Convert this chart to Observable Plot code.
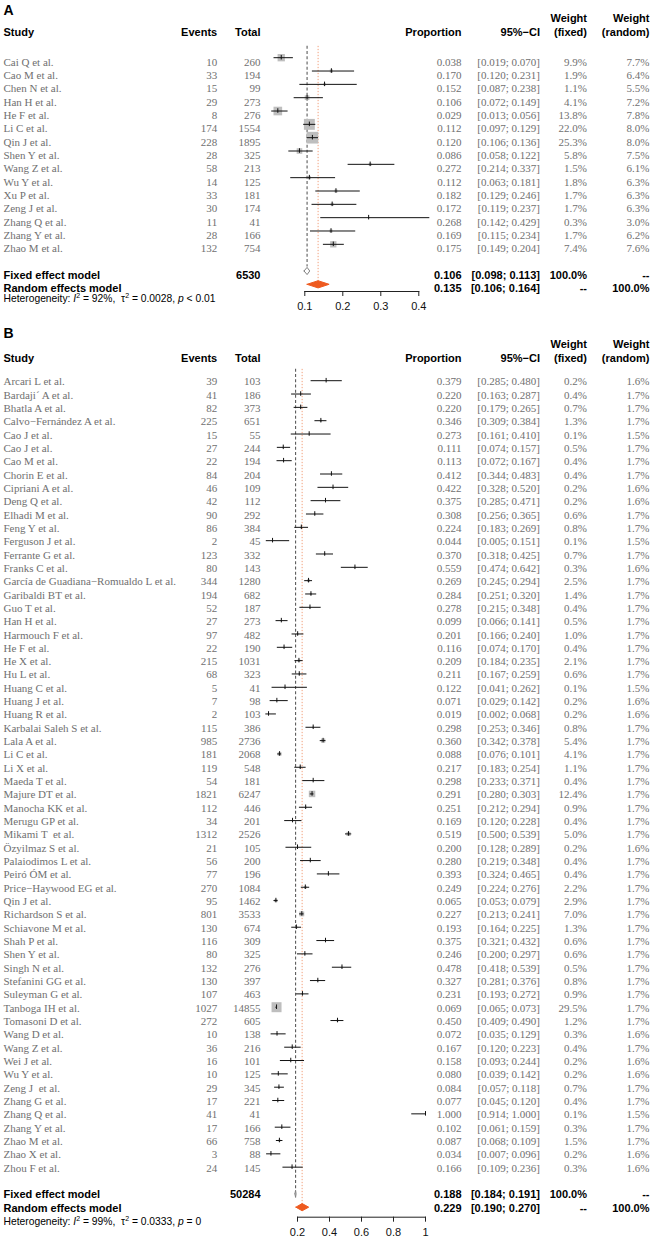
<!DOCTYPE html>
<html><head><meta charset="utf-8">
<script src="https://cdn.jsdelivr.net/npm/d3@7"></script>
<script src="https://cdn.jsdelivr.net/npm/@observablehq/plot@0.6"></script>
<style>body{margin:0;background:#fff;width:651px} svg{display:block}</style>
</head><body><div id="chart"></div><script>
// ---------- Panel A data ----------
const studiesA = ["Cai Q et al.","Cao M et al.","Chen N et al.","Han H et al.","He F et al.","Li C et al.","Qin J et al.","Shen Y et al.","Wang Z et al.","Wu Y et al.","Xu P et al.","Zeng J et al.","Zhang Q et al.","Zhang Y et al.","Zhao M et al."];
const eventsA = [10,33,15,29,8,174,228,28,58,14,33,30,11,28,132];
const totalA = [260,194,99,273,276,1554,1895,325,213,125,181,174,41,166,754];
const propA = [0.038,0.170,0.152,0.106,0.029,0.112,0.120,0.086,0.272,0.112,0.182,0.172,0.268,0.169,0.175];
const lowerA = [0.019,0.120,0.087,0.072,0.013,0.097,0.106,0.058,0.214,0.063,0.129,0.119,0.142,0.115,0.149];
const upperA = [0.070,0.231,0.238,0.149,0.056,0.129,0.136,0.122,0.337,0.181,0.246,0.237,0.429,0.234,0.204];
const wFixedA = [9.9,1.9,1.1,4.1,13.8,22.0,25.3,5.8,1.5,1.8,1.7,1.7,0.3,1.7,7.4];
const wRandomA = [7.7,6.4,5.5,7.2,7.8,8.0,8.0,7.5,6.1,6.3,6.3,6.3,3.0,6.2,7.6];
const fixedA = [0.106,0.098,0.113];
const randomA = [0.135,0.106,0.164];
const totalNA = 6530;
const hetA = ["92%","0.0028","< 0.01"];
const xTicksA = [0.1,0.2,0.3,0.4];

// ---------- Panel B data ----------
const studiesB = ["Arcari L et al.","Bardaji´ A et al.","Bhatla A et al.","Calvo−Fernández A et al.","Cao J et al.","Cao J et al.","Cao M et al.","Chorin E et al.","Cipriani A et al.","Deng Q et al.","Elhadi M et al.","Feng Y et al.","Ferguson J et al.","Ferrante G et al.","Franks C et al.","García de Guadiana−Romualdo L et al.","Garibaldi BT et al.","Guo T et al.","Han H et al.","Harmouch F et al.","He F et al.","He X et al.","Hu L et al.","Huang C et al.","Huang J et al.","Huang R et al.","Karbalai Saleh S et al.","Lala A et al.","Li C et al.","Li X et al.","Maeda T et al.","Majure DT et al.","Manocha KK et al.","Merugu GP et al.","Mikami T  et al.","Özyilmaz S et al.","Palaiodimos L et al.","Peiró ÓM et al.","Price−Haywood EG et al.","Qin J et al.","Richardson S et al.","Schiavone M et al.","Shah P et al.","Shen Y et al.","Singh N et al.","Stefanini GG et al.","Suleyman G et al.","Tanboga IH et al.","Tomasoni D et al.","Wang D et al.","Wang Z et al.","Wei J et al.","Wu Y et al.","Zeng J  et al.","Zhang G et al.","Zhang Q et al.","Zhang Y et al.","Zhao M et al.","Zhao X et al.","Zhou F et al."];
const eventsB = [39,41,82,225,15,27,22,84,46,42,90,86,2,123,80,344,194,52,27,97,22,215,68,5,7,2,115,985,181,119,54,1821,112,34,1312,21,56,77,270,95,801,130,116,80,132,130,107,1027,272,10,36,16,10,29,17,41,17,66,3,24];
const totalB = [103,186,373,651,55,244,194,204,109,112,292,384,45,332,143,1280,682,187,273,482,190,1031,323,41,98,103,386,2736,2068,548,181,6247,446,201,2526,105,200,196,1084,1462,3533,674,309,325,276,397,463,14855,605,138,216,101,125,345,221,41,166,758,88,145];
const propB = [0.379,0.220,0.220,0.346,0.273,0.111,0.113,0.412,0.422,0.375,0.308,0.224,0.044,0.370,0.559,0.269,0.284,0.278,0.099,0.201,0.116,0.209,0.211,0.122,0.071,0.019,0.298,0.360,0.088,0.217,0.298,0.291,0.251,0.169,0.519,0.200,0.280,0.393,0.249,0.065,0.227,0.193,0.375,0.246,0.478,0.327,0.231,0.069,0.450,0.072,0.167,0.158,0.080,0.084,0.077,1.000,0.102,0.087,0.034,0.166];
const lowerB = [0.285,0.163,0.179,0.309,0.161,0.074,0.072,0.344,0.328,0.285,0.256,0.183,0.005,0.318,0.474,0.245,0.251,0.215,0.066,0.166,0.074,0.184,0.167,0.041,0.029,0.002,0.253,0.342,0.076,0.183,0.233,0.280,0.212,0.120,0.500,0.128,0.219,0.324,0.224,0.053,0.213,0.164,0.321,0.200,0.418,0.281,0.193,0.065,0.409,0.035,0.120,0.093,0.039,0.057,0.045,0.914,0.061,0.068,0.007,0.109];
const upperB = [0.480,0.287,0.265,0.384,0.410,0.157,0.167,0.483,0.520,0.471,0.365,0.269,0.151,0.425,0.642,0.294,0.320,0.348,0.141,0.240,0.170,0.235,0.259,0.262,0.142,0.068,0.346,0.378,0.101,0.254,0.371,0.303,0.294,0.228,0.539,0.289,0.348,0.465,0.276,0.079,0.241,0.225,0.432,0.297,0.539,0.376,0.272,0.073,0.490,0.129,0.223,0.244,0.142,0.118,0.120,1.000,0.159,0.109,0.096,0.236];
const wFixedB = [0.2,0.4,0.7,1.3,0.1,0.5,0.4,0.4,0.2,0.2,0.6,0.8,0.1,0.7,0.3,2.5,1.4,0.4,0.5,1.0,0.4,2.1,0.6,0.1,0.2,0.2,0.8,5.4,4.1,1.1,0.4,12.4,0.9,0.4,5.0,0.2,0.4,0.4,2.2,2.9,7.0,1.3,0.6,0.6,0.5,0.8,0.9,29.5,1.2,0.3,0.4,0.2,0.2,0.7,0.4,0.1,0.3,1.5,0.2,0.3];
const wRandomB = [1.6,1.7,1.7,1.7,1.5,1.7,1.7,1.7,1.6,1.6,1.7,1.7,1.5,1.7,1.6,1.7,1.7,1.7,1.7,1.7,1.7,1.7,1.7,1.5,1.6,1.6,1.7,1.7,1.7,1.7,1.7,1.7,1.7,1.7,1.7,1.6,1.7,1.7,1.7,1.7,1.7,1.7,1.7,1.7,1.7,1.7,1.7,1.7,1.7,1.6,1.7,1.6,1.6,1.7,1.7,1.5,1.7,1.7,1.6,1.6];
const fixedB = [0.188,0.184,0.191];
const randomB = [0.229,0.190,0.270];
const totalNB = 50284;
const hetB = ["99%","0.0333","= 0"];
const xTicksB = [0.2,0.4,0.6,0.8,1];

// ---------- shared text ----------
const colHeaders = ["Study","Events","Total","Proportion","95%−CI","(fixed)","(random)"];
const weightHeader = "Weight";
const summaryLabels = ["Fixed effect model","Random effects model"];

const SERIF = "'Liberation Serif','Times New Roman',serif";
const SANS = "'Liberation Sans',Arial,Helvetica,sans-serif";
const COLS = [3, 216.7, 260, 461, 539.5, 586.5, 649];
const ANCH = ["start","end","end","end","end","end","end"];

function panel(o) {
  const N = o.studies.length;
  const rows = o.studies.map((s,i)=>({study:s, events:String(o.events[i]), total:String(o.total[i]), est:o.prop[i],
    lo:o.lower[i], hi:o.upper[i], wf:o.wFixed[i], wr:o.wRandom[i], row:i}));
  const ci = (l,h) => `[${l.toFixed(3)}; ${h.toFixed(3)}]`;
  const summ = [
    {label:summaryLabels[0], total:String(o.totalN), est:o.fixed[0].toFixed(3), ci:ci(o.fixed[1],o.fixed[2]), wf:"100.0%", wr:"--", row:N+1},
    {label:summaryLabels[1], total:"", est:o.random[0].toFixed(3), ci:ci(o.random[1],o.random[2]), wf:"--", wr:"100.0%", row:N+2}
  ];
  const ml = o.ml;
  const dy = o.dy;
  const txt = (data, text, c, extra={}) => Plot.text(data, {y:"row", text, frameAnchor:"left", dx: COLS[c]-ml, textAnchor: ANCH[c], ...extra});
  const studyStyle = {fontFamily: SERIF, fontSize: 11, fill: "#707070"};
  const boldStyle = {fontFamily: SANS, fontSize: 11, fontWeight: "bold", fill: "#000"};
  const h = 0.27;
  const dia = (v, row, key) => [{x:v[1],y:row,k:key},{x:v[0],y:row-h,k:key},{x:v[2],y:row,k:key},{x:v[0],y:row+h,k:key},{x:v[1],y:row,k:key}];

  const marks = [
    Plot.ruleX([o.fixed[0]], {y1: () => -0.85, y2: () => N+1-0.3, stroke:"#5c5c5c", strokeDasharray:"3,2.2", strokeWidth:1.1, dy}),
    Plot.ruleX([o.random[0]], {y1: () => -0.85, y2: () => N+2, stroke:"#F2A07C", strokeDasharray:"1.3,1.7", strokeWidth:1, dy}),
    Plot.dot(rows, {x:"est", y:"row", r:"wf", symbol:"square", fill:"#bebebe", stroke:null, dy}),
    Plot.ruleY(rows, {y:"row", x1:"lo", x2:"hi", stroke:"#111", strokeWidth:1, dy}),
    Plot.ruleX(rows, {x:"est", y1: d=>d.row-0.17, y2: d=>d.row+0.17, stroke:"#111", strokeWidth:1, dy}),
    Plot.line(dia(o.fixed, N+1, "f"), {x:"x", y:"y", stroke:"#808080", fill:"white", strokeWidth:1, dy}),
    Plot.line(dia(o.random, N+2, "r"), {x:"x", y:"y", stroke:"#EE5A1F", fill:"#EE5A1F", strokeWidth:1, dy}),
    Plot.frame({anchor:"bottom", stroke:"#222"}),
    Plot.axisX(o.ticks, {anchor:"bottom", tickSize:5, tickPadding:o.tickPad, fontSize:11, fontFamily:SANS, fill:"#111", stroke:"#222", tickFormat: d=>String(d), label:null}),
    // study rows
    txt(rows, "study", 0, studyStyle),
    txt(rows, "events", 1, studyStyle),
    txt(rows, "total", 2, studyStyle),
    txt(rows, d=>d.est.toFixed(3), 3, studyStyle),
    txt(rows, d=>ci(d.lo,d.hi), 4, studyStyle),
    txt(rows, d=>d.wf.toFixed(1)+"%", 5, studyStyle),
    txt(rows, d=>d.wr.toFixed(1)+"%", 6, studyStyle),
    // summary rows
    txt(summ, "label", 0, boldStyle),
    txt(summ, "total", 2, boldStyle),
    txt(summ, "est", 3, boldStyle),
    txt(summ, "ci", 4, boldStyle),
    txt(summ, "wf", 5, boldStyle),
    txt(summ, "wr", 6, boldStyle),
    // heterogeneity
    Plot.text([{row:N+o.hetRow}], {y:"row", text: () => "Heterogeneity", frameAnchor:"left", dx: COLS[0]-ml, textAnchor:"start", fontFamily:SANS, fontSize:10.3, fill:"#000"}),
    // panel label
    Plot.text([{row:o.labelRow}], {y:"row", text: () => o.label, frameAnchor:"left", dx: COLS[0]-ml, textAnchor:"start", fontFamily:SANS, fontSize:14, fontWeight:"bold", fill:"#000"})
  ];
  // column headers
  colHeaders.forEach((t,c) => {
    marks.push(Plot.text([{row:o.headRow}], {y:"row", text: () => t, frameAnchor:"left", dx: COLS[c]-ml, textAnchor: ANCH[c], ...boldStyle}));
  });
  [5,6].forEach(c => {
    marks.push(Plot.text([{row:o.weightRow}], {y:"row", text: () => weightHeader, frameAnchor:"left", dx: COLS[c]-ml, textAnchor: ANCH[c], ...boldStyle}));
  });

  const svg = Plot.plot({
    width: 651, height: o.height,
    marginLeft: ml, marginRight: 651 - o.xEnd, marginTop: 0, marginBottom: o.mb,
    style: {background:"white", fontFamily: SANS, overflow:"visible"},
    x: {domain: [o.ticks[0], o.ticks[o.ticks.length-1]], axis: null},
    y: {domain: [0, N-1], range: [o.y0, o.y0 + (N-1)*o.step], axis: null},
    r: {type: "sqrt", domain: [0, o.maxW], range: [0, o.maxSide/Math.sqrt(Math.PI)]},
    marks
  });
  // Heterogeneity with italics & superscripts
  const het = [...svg.querySelectorAll("text")].find(t => t.textContent === "Heterogeneity");
  if (het) {
    het.innerHTML = `Heterogeneity: <tspan font-style="italic">I</tspan><tspan dy="-4" font-size="7">2</tspan><tspan dy="4"> = ${o.het[0]},  </tspan><tspan>τ</tspan><tspan dy="-4" font-size="7">2</tspan><tspan dy="4"> = ${o.het[1]}, </tspan><tspan font-style="italic">p</tspan><tspan> ${o.het[2]}</tspan>`;
  }
  return svg;
}

const step = 13.33;
const chart = document.getElementById("chart");
chart.appendChild(panel({
  label:"A", studies:studiesA, events:eventsA, total:totalA, prop:propA, lower:lowerA, upper:upperA,
  wFixed:wFixedA, wRandom:wRandomA, fixed:fixedA, random:randomA, totalN:totalNA, het:hetA, ticks:xTicksA,
  height: 320, ml: 304.3, xEnd: 418.3, mb: 29, y0: 61.7, step, dy: -4.5, tickPad: 6,
  maxW: 25.3, maxSide: 11.7, hetRow: 2.75, labelRow: -3.88, weightRow: -3.26, headRow: -2.2
}));
chart.appendChild(panel({
  label:"B", studies:studiesB, events:eventsB, total:totalB, prop:propB, lower:lowerB, upper:upperB,
  wFixed:wFixedB, wRandom:wRandomB, fixed:fixedB, random:randomB, totalN:totalNB, het:hetB, ticks:xTicksB,
  height: 920, ml: 297, xEnd: 425, mb: 23.3, y0: 61.2, step, dy: -1, tickPad: 6,
  maxW: 29.5, maxSide: 10, hetRow: 3.0, labelRow: -3.6, weightRow: -2.83, headRow: -1.72
}));
</script></body></html>
